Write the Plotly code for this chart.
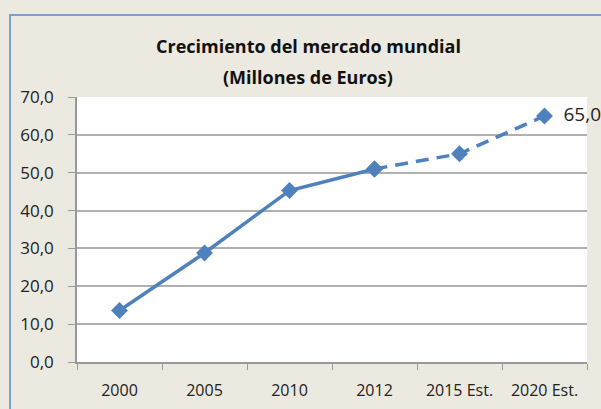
import plotly.graph_objects as go

categories = ["2000", "2005", "2010", "2012", "2015 Est.", "2020 Est."]
values = [13.6, 28.8, 45.3, 51.0, 55.0, 65.0]
y_ticks = [0, 10, 20, 30, 40, 50, 60, 70]
y_tick_labels = ["0,0", "10,0", "20,0", "30,0", "40,0", "50,0", "60,0", "70,0"]
title_lines = ["Crecimiento del mercado mundial", "(Millones de Euros)"]
last_label = "65,0"

W, H = 601, 409
L, R, T, B = 77, 14, 97, 47
pw, ph = W - L - R, H - T - B

blue = "#4F81BD"
font_fam = "Open Sans, sans-serif"

fig = go.Figure()
fig.add_trace(go.Scatter(
    x=categories[:4], y=values[:4], mode="lines+markers",
    line=dict(color=blue, width=3.5),
    marker=dict(symbol="diamond", size=13, color=blue),
    showlegend=False, hoverinfo="skip"))
fig.add_trace(go.Scatter(
    x=categories[3:], y=values[3:], mode="lines+markers+text",
    line=dict(color=blue, width=3.5, dash="13px,8px"),
    marker=dict(symbol="diamond", size=13, color=blue),
    text=["", "", "\u00a0\u00a0" + last_label], textposition="middle right",
    textfont=dict(family=font_fam, size=19, color="#222"),
    cliponaxis=False,
    showlegend=False, hoverinfo="skip"))

annotations = []
for i, line in enumerate(title_lines):
    annotations.append(dict(
        text="<b>" + line + "</b>", xref="paper", yref="paper",
        x=(308 - L) / pw, xanchor="center",
        y=1 + (T - (46 + 31 * i)) / ph, yanchor="middle",
        showarrow=False, font=dict(size=18, family=font_fam, color="#111")))

fig.update_layout(
    width=W, height=H,
    margin=dict(l=L, r=R, t=T, b=B, autoexpand=False),
    paper_bgcolor="#ECE9E0",
    plot_bgcolor="white",
    font=dict(family=font_fam, color="#222"),
    annotations=annotations,
    xaxis=dict(type="category", categoryorder="array", categoryarray=categories,
               tickson="boundaries", ticks="outside", ticklen=6, tickcolor="#999",
               showgrid=False, showline=True, linecolor="#999", linewidth=1.5,
               tickfont=dict(size=16, family=font_fam, color="#222"),
               ticklabelstandoff=13, automargin=False,
               range=[-0.5, 5.5]),
    yaxis=dict(range=[0, 70], tickvals=y_ticks, ticktext=y_tick_labels,
               ticks="outside", ticklen=7, tickcolor="#999",
               showgrid=True, gridcolor="#B0B0B0", gridwidth=1.5,
               showline=True, linecolor="#999", linewidth=1.5, zeroline=False,
               tickfont=dict(size=17, family=font_fam, color="#222"),
               ticklabelstandoff=11, automargin=False),
    shapes=[dict(type="rect", xref="paper", yref="paper",
                 x0=(10 - L) / pw, x1=(W + 20 - L) / pw,
                 y0=-(B + 20) / ph, y1=1 + (T - 15) / ph,
                 line=dict(color="#7BA0CD", width=2), layer="below")],
)

fig.write_html("out.html", config={"displayModeBar": False},
               post_script="document.body.style.margin='0';document.body.style.overflow='hidden';")
